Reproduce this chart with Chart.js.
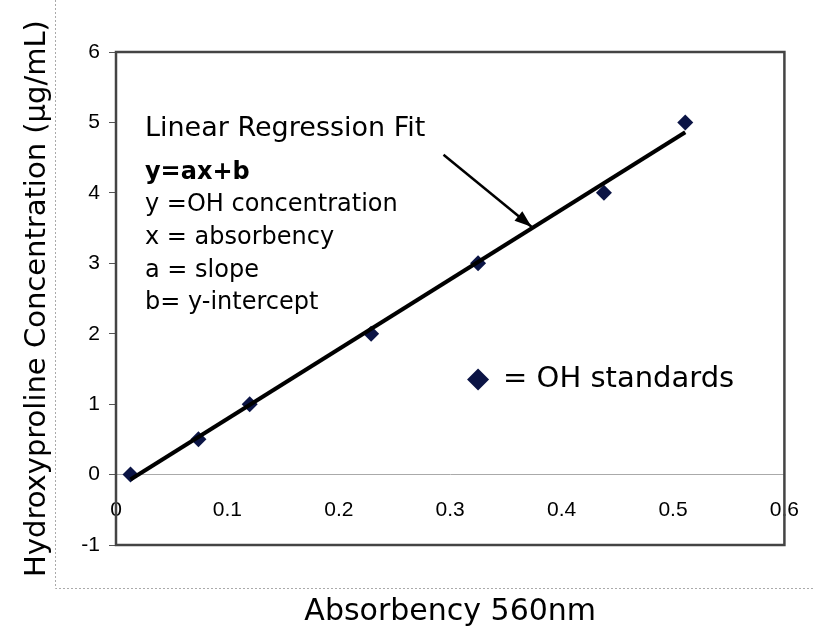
<!DOCTYPE html>
<html>
<head>
<meta charset="utf-8">
<script src="https://cdn.jsdelivr.net/npm/chart.js@4.4.1/dist/chart.umd.min.js"></script>
<style>
  body { margin: 0; background: #fff; }
</style>
</head>
<body>
<canvas id="myChart" width="814" height="635"></canvas>
<script>
// OH standards
const absorbency = [0.013, 0.074, 0.12, 0.229, 0.325, 0.438, 0.511];
const concentration = [0, 0.5, 1, 2, 3, 4, 5];

// regression line ends and arrow (data units)
const fitX = [0.013, 0.511];
const fitY = [-0.07, 4.86];
const arrowX = [0.294, 0.373];
const arrowY = [4.54, 3.52];

const notes = ['Linear Regression Fit', 'y=ax+b', 'y =OH concentration', 'x = absorbency', 'a = slope', 'b= y-intercept'];
const legendText = '= OH standards';

const textFont = '"DejaVu Sans", sans-serif';
const tickFont = { family: '"Liberation Sans", Arial, sans-serif', size: 21 };
const navy = '#0b1445';

const extras = {
  id: 'extras',
  afterDraw(chart) {
    const c = chart.ctx;
    const a = chart.chartArea;
    const xs = chart.scales.x, ys = chart.scales.y;
    c.save();

    // outer dotted frame
    c.strokeStyle = '#aaa';
    c.lineWidth = 1;
    c.setLineDash([2, 2]);
    c.beginPath();
    c.moveTo(55.5, 0);
    c.lineTo(55.5, 588.5);
    c.lineTo(814, 588.5);
    c.stroke();
    c.setLineDash([]);

    // plot frame
    c.strokeStyle = '#444';
    c.lineWidth = 2.5;
    c.strokeRect(a.left, a.top, a.right - a.left, a.bottom - a.top);

    // arrow
    const x0 = xs.getPixelForValue(arrowX[0]), y0 = ys.getPixelForValue(arrowY[0]);
    const x1 = xs.getPixelForValue(arrowX[1]), y1 = ys.getPixelForValue(arrowY[1]);
    c.strokeStyle = '#000';
    c.fillStyle = '#000';
    c.lineWidth = 2.5;
    c.beginPath();
    c.moveTo(x0, y0);
    c.lineTo(x1, y1);
    c.stroke();
    const ang = Math.atan2(y1 - y0, x1 - x0);
    c.beginPath();
    c.moveTo(x1, y1);
    c.lineTo(x1 - 18 * Math.cos(ang - 0.35), y1 - 18 * Math.sin(ang - 0.35));
    c.lineTo(x1 - 18 * Math.cos(ang + 0.35), y1 - 18 * Math.sin(ang + 0.35));
    c.closePath();
    c.fill();

    // annotation text
    c.textBaseline = 'middle';
    c.textAlign = 'left';
    const tx = xs.getPixelForValue(0.026);
    const ty = ys.getPixelForValue(4.9);
    notes.forEach((t, i) => {
      c.font = (i === 1 ? 'bold 24px ' : i === 0 ? '27px ' : '24px ') + textFont;
      c.fillText(t, tx, i === 0 ? ty : ty + 43 + (i - 1) * 32.6);
    });

    // legend
    const lx = xs.getPixelForValue(0.325), ly = ys.getPixelForValue(1.35);
    c.fillStyle = navy;
    c.beginPath();
    c.moveTo(lx, ly - 11);
    c.lineTo(lx + 11, ly);
    c.lineTo(lx, ly + 11);
    c.lineTo(lx - 11, ly);
    c.closePath();
    c.fill();
    c.fillStyle = '#000';
    c.font = '29px ' + textFont;
    c.fillText(legendText, lx + 25, ly);

    c.restore();
  }
};

const ctx = document.getElementById('myChart');

new Chart(ctx, {
  type: 'scatter',
  data: {
    datasets: [{
      type: 'line',
      label: 'Linear Regression Fit',
      data: fitX.map((x, i) => ({ x: x, y: fitY[i] })),
      borderColor: '#000',
      borderWidth: 4,
      pointRadius: 0,
      fill: false,
    }, {
      label: 'OH standards',
      data: absorbency.map((x, i) => ({ x: x, y: concentration[i] })),
      pointStyle: 'rectRot',
      pointRadius: 8,
      backgroundColor: navy,
      borderColor: navy,
      borderWidth: 0,
    }]
  },
  options: {
    responsive: false,
    animation: false,
    layout: {
      padding: { left: 0, top: 52, right: 22, bottom: 0 },
    },
    plugins: {
      legend: { display: false },
      tooltip: { enabled: false },
      title: {
        display: true,
        position: 'bottom',
        fullSize: false,
        text: 'Absorbency 560nm',
        color: '#000',
        font: { family: textFont, size: 30, weight: 'normal' },
        padding: { top: 49, bottom: 5 },
      },
    },
    scales: {
      x: {
        type: 'linear',
        position: { y: 0 },
        min: 0,
        max: 0.6,
        afterFit: (scale) => { scale.height = 0; },
        grid: { display: false },
        border: { display: true, color: '#aaa', width: 1, dash: [2, 2] },
        ticks: { stepSize: 0.1, color: '#000', font: tickFont, padding: 15, maxRotation: 0 },
      },
      y: {
        min: -1,
        max: 6,
        afterFit: (scale) => { scale.width = 116; },
        grid: { drawOnChartArea: false, tickLength: 7, color: '#555' },
        border: { display: true, color: '#444', width: 2 },
        ticks: { stepSize: 1, color: '#000', font: tickFont, padding: 9 },
        title: {
          display: true,
          text: 'Hydroxyproline Concentration (µg/mL)',
          color: '#000',
          font: { family: textFont, size: 29 },
          padding: { top: 20 },
        },
      },
    }
  },
  plugins: [extras]
});
</script>
</body>
</html>
